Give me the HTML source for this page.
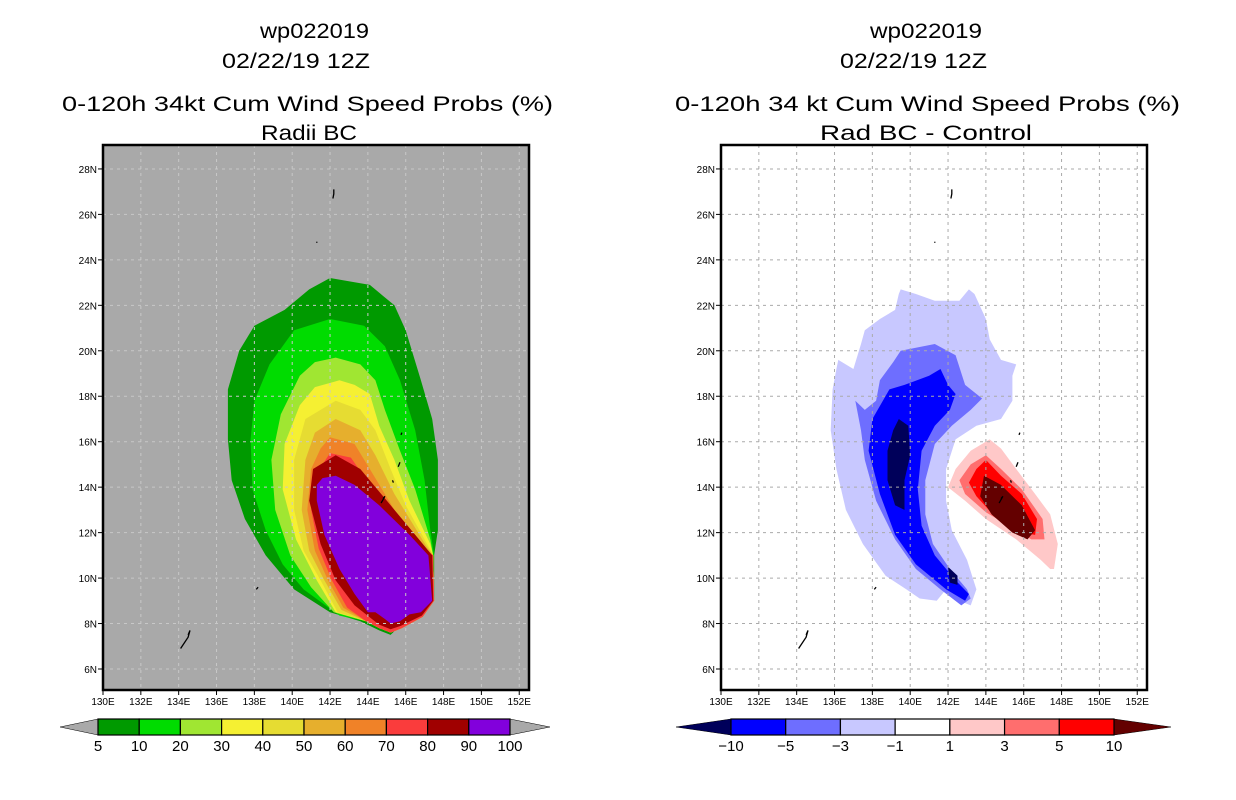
<!DOCTYPE html>
<html><head><meta charset="utf-8"><style>
body{margin:0;background:#fff;}
svg{display:block;font-family:"Liberation Sans",sans-serif;}
</style></head><body>
<svg id="s" width="1236" height="800">
<g font-size="21" fill="#000">
<text x="260" y="38" textLength="109" lengthAdjust="spacingAndGlyphs">wp022019</text>
<text x="222" y="68" textLength="148" lengthAdjust="spacingAndGlyphs">02/22/19 12Z</text>
<text x="62" y="111" textLength="491" lengthAdjust="spacingAndGlyphs">0-120h 34kt Cum Wind Speed Probs (%)</text>
<text x="261" y="140" textLength="96" lengthAdjust="spacingAndGlyphs">Radii BC</text>
</g>
<g font-size="21" fill="#000">
<text x="870" y="38" textLength="112" lengthAdjust="spacingAndGlyphs">wp022019</text>
<text x="840" y="68" textLength="147" lengthAdjust="spacingAndGlyphs">02/22/19 12Z</text>
<text x="675" y="111" textLength="505" lengthAdjust="spacingAndGlyphs">0-120h 34 kt Cum Wind Speed Probs (%)</text>
<text x="820" y="140" textLength="212" lengthAdjust="spacingAndGlyphs">Rad BC - Control</text>
</g>
</svg>
<script>
// ---- data ----
const lonTicks=[130,132,134,136,138,140,142,144,146,148,150,152];
const latTicks=[6,8,10,12,14,16,18,20,22,24,26,28];
const leftLevels=[5,10,20,30,40,50,60,70,80,90,100];
const leftColors=["#009a00","#00dc00","#a0e632","#f5f032","#e6dc32","#e6af2d","#f08228","#fa3c3c","#a00000","#8200dc"];
const rightLevels=["-10","-5","-3","-1","1","3","5","10"];
const rightColors=["#00005a","#0000ff","#6e6eff","#c8c8ff","#ffffff","#ffc8c8","#ff6e6e","#ff0000","#640000"];
const btm=[[147.5,9.0],[146.9,8.3],[145.8,7.8],[145.2,7.6],[144.6,7.8],[143.9,8.1]];
const probContours=[
 [5,[[142.0,23.2],[144.1,22.9],[145.4,22.0],[146.0,20.9],[146.8,18.7],[147.4,17.0],[147.7,15.2],[147.7,12.1],[147.5,11.0],[147.5,9.0],[146.8,8.4],[145.7,7.9],[145.2,7.5],[144.6,7.7],[143.6,8.1],[142.0,8.5],[140.1,9.5],[138.6,11.0],[137.5,12.6],[136.8,14.3],[136.6,16.1],[136.6,18.3],[137.2,20.0],[138.0,21.1],[139.6,21.8],[140.9,22.7]]],
 [10,[[142.0,21.4],[143.8,21.1],[144.9,20.2],[145.7,18.7],[146.5,16.5],[147.0,14.3],[147.3,12.1],[147.5,11.0],...btm,[142.5,8.35],[140.6,9.5],[139.5,10.6],[138.6,12.1],[137.9,13.9],[137.8,16.1],[138.0,17.8],[138.8,19.4],[140.1,20.9]]],
 [20,[[142.3,19.7],[143.6,19.4],[144.4,18.7],[144.9,17.4],[145.7,15.6],[146.5,13.9],[147.3,11.7],[147.45,11.0],...btm,[142.2,8.5],[141.0,9.6],[139.9,11.0],[139.1,13.0],[138.9,15.2],[139.4,17.2],[140.4,18.9],[141.2,19.5]]],
 [30,[[142.5,18.7],[143.3,18.5],[144.1,18.1],[144.6,16.7],[145.4,15.2],[146.2,13.4],[147.3,11.5],[147.45,11.0],...btm,[142.3,8.5],[141.3,9.9],[140.2,11.7],[139.5,13.9],[139.6,15.9],[140.4,17.6],[141.2,18.4]]],
 [40,[[142.3,17.8],[143.6,17.4],[144.4,16.5],[145.2,14.8],[146.0,13.2],[147.2,11.4],[147.45,11.0],...btm,[142.4,8.5],[141.5,9.9],[140.6,11.2],[140.1,13.0],[140.1,15.2],[140.7,17.0]]],
 [50,[[142.3,17.0],[143.6,16.5],[144.4,15.4],[145.4,13.7],[147.1,11.4],[147.45,11.0],...btm,[142.6,8.6],[141.7,9.9],[140.9,11.2],[140.5,13.0],[140.7,15.2],[141.2,16.4]]],
 [60,[[142.0,16.2],[143.3,15.9],[144.1,14.8],[145.4,13.0],[147.0,11.3],[147.45,11.0],...btm,[142.7,8.7],[141.9,9.9],[141.2,11.2],[140.8,13.0],[141.0,14.8],[141.5,15.7]]],
 [70,[[142.0,15.5],[143.1,15.3],[144.1,14.1],[145.7,12.6],[146.9,11.3],[147.45,11.0],...btm,[142.9,8.7],[142.1,9.9],[141.4,11.3],[141.0,13.0],[141.2,14.5]]],
 [80,[[142.3,15.4],[143.6,14.8],[145.2,13.2],[146.7,11.7],[147.4,11.0],[147.45,9.0],[146.85,8.35],[145.75,7.9],[145.2,7.75],[144.6,7.95],[143.3,8.8],[142.3,9.9],[141.5,11.5],[140.9,13.4],[141.1,14.8]]],
 [90,[[142.3,14.5],[143.3,14.1],[144.6,13.2],[146.2,11.9],[147.2,11.0],[147.4,9.0],[146.8,8.5],[146.2,8.4],[145.7,8.1],[145.2,8.0],[144.9,8.2],[144.4,8.5],[144.0,8.5],[143.3,9.3],[142.5,10.4],[141.7,11.9],[141.3,13.4],[141.3,14.1],[141.6,14.4]]]
];
const diffContours=[
 [-1,[[139.5,22.7],[140.3,22.5],[141.3,22.2],[142.6,22.2],[143.1,22.7],[143.4,22.5],[144.0,21.4],[144.2,20.5],[144.8,19.6],[145.6,19.4],[145.4,18.9],[145.4,17.8],[144.8,17.0],[143.5,16.7],[142.4,16.1],[141.9,14.8],[141.9,13.4],[142.2,12.1],[143.0,10.8],[143.5,9.5],[143.2,8.8],[142.6,9.0],[141.9,9.5],[141.4,9.0],[140.5,9.1],[139.8,9.5],[138.7,10.1],[137.5,11.5],[136.6,13.0],[136.1,14.8],[135.8,16.5],[135.9,18.3],[136.1,19.2],[136.2,19.6],[137.0,19.2],[137.4,20.3],[137.6,20.9],[138.4,21.4],[139.2,21.8],[139.4,22.5]]],
 [-3,[[139.5,20.0],[141.3,20.3],[142.4,19.8],[142.9,18.5],[143.8,17.9],[143.2,17.4],[142.2,16.7],[141.3,15.9],[140.8,14.3],[140.8,12.8],[141.2,11.5],[142.1,10.4],[143.0,9.5],[143.2,9.1],[142.7,8.8],[141.6,9.5],[140.3,10.4],[139.2,11.7],[138.2,13.4],[137.6,15.2],[137.4,16.5],[137.1,17.8],[137.6,17.4],[138.2,17.8],[138.4,18.7],[139.1,19.5]]],
 [-5,[[139.7,18.5],[141.0,18.9],[141.6,19.2],[142.0,18.5],[142.4,18.1],[142.1,17.4],[141.3,16.7],[140.6,15.6],[140.4,13.9],[140.6,12.3],[141.3,11.0],[142.4,9.9],[143.1,9.3],[142.9,9.0],[141.9,9.5],[140.3,10.6],[139.2,11.9],[138.4,13.7],[137.8,15.6],[138.0,17.0],[138.9,18.3]]],
 [-10,[[139.4,17.0],[139.9,16.7],[140.0,15.4],[139.7,14.3],[139.7,13.0],[139.2,13.2],[138.8,14.3],[138.8,15.6],[139.1,16.5]]],
 [-10,[[142.0,10.5],[142.5,10.1],[142.5,9.7],[142.1,9.8]]],
 [1,[[144.2,16.1],[144.8,15.7],[145.6,14.8],[146.6,13.7],[147.4,12.8],[147.8,11.5],[147.6,10.4],[147.4,10.4],[146.9,10.8],[145.6,11.7],[144.0,12.6],[142.9,13.4],[142.0,14.0],[142.4,14.8],[143.2,15.6]]],
 [3,[[144.0,15.4],[144.8,14.8],[145.9,13.9],[147.0,12.6],[147.1,11.7],[146.4,11.7],[145.4,12.2],[144.0,12.9],[142.9,13.7],[142.6,14.3],[143.2,15.0]]],
 [5,[[144.0,15.2],[144.8,14.5],[145.9,13.7],[146.7,12.6],[146.6,11.9],[145.9,12.0],[144.6,12.6],[143.5,13.6],[143.1,14.2],[143.5,14.8]]],
 [10,[[143.9,14.5],[144.8,14.1],[145.9,13.2],[146.6,12.1],[146.2,11.7],[145.4,12.0],[144.3,12.8],[143.7,13.6]]]
];
const islands=[[[134.1,6.9],[134.5,7.4],[134.6,7.7],[134.5,7.5]],[[138.1,9.5],[138.2,9.6]],[[141.3,24.8],[141.3,24.75]],[[142.2,27.1],[142.2,26.9],[142.15,26.7]],[[144.7,13.3],[144.9,13.6],[144.8,13.5]],[[145.7,15.1],[145.6,14.9]],[[145.8,16.4],[145.75,16.3]],[[145.3,14.3],[145.35,14.2]]];
const diffColorFor={"-10":0,"-5":1,"-3":2,"-1":3,"1":5,"3":6,"5":7,"10":8};
// ---- axes ----
const NS="http://www.w3.org/2000/svg";
const svg=document.getElementById('s');
function mk(t,a,p){const e=document.createElementNS(NS,t);for(const k in a)e.setAttribute(k,a[k]);(p||svg).appendChild(e);return e;}
function xs(off){return lon=>off+103+(lon-130)*18.92;}
function ys(lat){return 669-(lat-6)*22.73;}
function drawPanel(off,bg,gridCol,contours,colorOf,name){
  const X=xs(off);
  const g=mk('g',{});
  
  
  const cp=mk('clipPath',{id:'c'+off},g);mk('rect',{x:off+103,y:145,width:426,height:545},cp);
  const bgR=mk('rect',{x:off+103,y:145,width:426,height:545,fill:bg},g);
  
  
  const cg=mk('g',{'clip-path':'url(#c'+off+')'},g);
  contours.forEach(c=>{
    const p=mk('polygon',{points:c[1].map(q=>X(q[0]).toFixed(1)+','+ys(q[1]).toFixed(1)).join(' '),fill:colorOf(c[0])},cg);
    
    
  });
  islands.forEach(isl=>{
    const l=mk('polyline',{points:isl.map(q=>X(q[0]).toFixed(1)+','+ys(q[1]).toFixed(1)).join(' '),fill:'none',stroke:'#000','stroke-width':1.3},cg);
    
    
  });
  lonTicks.forEach(l=>{
    const x=X(l);
    const gl=mk('line',{x1:x,x2:x,y1:145,y2:690,stroke:gridCol,'stroke-dasharray':'3,4','stroke-width':1},cg);
    
    
    mk('line',{x1:x,x2:x,y1:690,y2:695,stroke:'#000'},g);
    const t=mk('text',{x:x,y:705,'font-size':10,'text-anchor':'middle'},g);t.textContent=l+'E';
    
    
  });
  latTicks.forEach(l=>{
    const y=ys(l);
    const gl=mk('line',{x1:off+103,x2:off+529,y1:y,y2:y,stroke:gridCol,'stroke-dasharray':'3,4','stroke-width':1},cg);
    
    
    mk('line',{x1:off+98,x2:off+103,y1:y,y2:y,stroke:'#000'},g);
    const t=mk('text',{x:off+97,y:y+4,'font-size':10,'text-anchor':'end'},g);t.textContent=l+'N';
    
    
  });
  const fr=mk('rect',{x:off+103,y:145,width:426,height:545,fill:'none',stroke:'#000','stroke-width':2.5},g);
  
  
}
drawPanel(0,'#a9a9a9','#c8c8c8',probContours,v=>leftColors[leftLevels.indexOf(v)],'left-map');
drawPanel(618,'#ffffff','#aaaaaa',diffContours,v=>rightColors[diffColorFor[String(v)]],'right-map');
// ---- colorbars ----
function colorbar(x0,x1,tL,tR,colors,labels,lc,rc,name){
  const g=mk('g',{});
  
  
  const n=labels.length-1, w=(x1-x0)/n;
  const lt=mk('polygon',{points:`${tL},727 ${x0},719 ${x0},735`,fill:lc,stroke:'#000','stroke-width':0.5},g);
  
  
  const rt=mk('polygon',{points:`${tR},727 ${x1},719 ${x1},735`,fill:rc,stroke:'#000','stroke-width':0.5},g);
  
  
  for(let i=0;i<n;i++){
    const r=mk('rect',{x:x0+i*w,y:719,width:w,height:16,fill:colors[i],stroke:'#000','stroke-width':1.2},g);
    
    
  }
  labels.forEach((l,i)=>{
    const t=mk('text',{x:x0+i*w,y:751,'font-size':15,'text-anchor':'middle'},g);t.textContent=l;
    
    
  });
}
colorbar(98,510,60,550,leftColors,leftLevels.map(String),'#a9a9a9','#a9a9a9','left-colorbar');
colorbar(731,1114,676,1171,rightColors.slice(1,8),rightLevels.map(s=>s.replace('-','\u2212')),rightColors[0],rightColors[8],'right-colorbar');
</script>
</body></html>
